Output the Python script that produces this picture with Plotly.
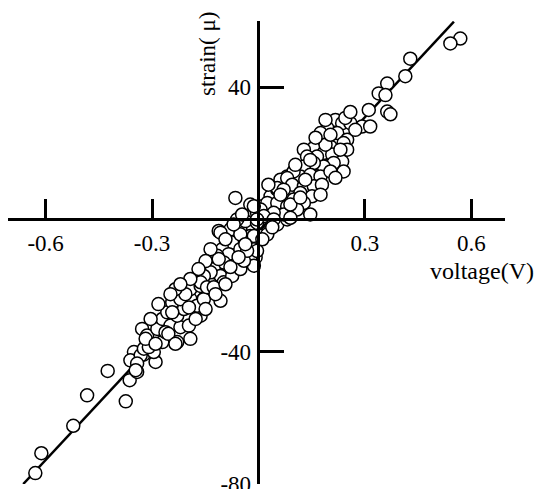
import plotly.graph_objects as go

# voltage (V) and strain (micro) readings
voltage = [
    -0.629, -0.612, -0.522, -0.483, -0.425, -0.374, -0.363, -0.342, -0.346, -0.324, -0.290, -0.310,
    -0.351, -0.361, -0.332, -0.342, -0.346, -0.323, -0.295, -0.309, -0.328, -0.314, -0.285, -0.271,
    -0.229, -0.271, -0.257, -0.243, -0.248, -0.220, -0.196, -0.229, -0.210, -0.192, -0.220, -0.163,
    -0.173, -0.154, -0.192, -0.163, -0.135, -0.173, -0.145, -0.135, -0.107, -0.116, -0.098, -0.126,
    -0.098, -0.112, -0.196, -0.243, -0.262,
    -0.065, -0.023, -0.112, -0.079, -0.051, -0.037, -0.060, -0.046, -0.004, 0.010, 0.034, 0.053,
    0.071, 0.081, 0.062, 0.099, 0.025, 0.053, 0.081, 0.034, 0.062, -0.004, -0.023, 0.006, 0.025,
    -0.074, -0.102, -0.084, -0.051, -0.013, -0.008, -0.023, -0.046, -0.070, -0.098, -0.116, -0.126,
    -0.107, -0.135, -0.154, -0.163, -0.098, -0.074, -0.051, -0.013,
    -0.041, -0.004, -0.032, -0.112, -0.145, -0.126, 0.025, -0.013, -0.051, -0.107,
    0.311, 0.292, 0.315, 0.217, 0.236, 0.259, 0.194, 0.175, 0.222, 0.250, 0.240, 0.156, 0.128,
    0.203, 0.184, 0.208, 0.165, 0.137, 0.250, 0.236, 0.240, 0.212, 0.184, 0.156, 0.128, 0.118,
    0.146, 0.175, 0.203, 0.099, 0.081, 0.095, 0.128, 0.156, 0.179, 0.053, 0.071, 0.118, 0.151,
    0.175, 0.099, 0.128, 0.025, 0.053, 0.081, 0.109, 0.146, 0.006, 0.071, 0.090, 0.043, 0.015,
    -0.013, -0.004, 0.043,
    0.569, 0.541, 0.428, 0.414, 0.363, 0.339, 0.358, 0.363, 0.372,
    -0.282, -0.304, -0.206, -0.177, -0.149, -0.121, -0.093, -0.079, -0.234, -0.254, -0.192, -0.318,
    -0.056, -0.037, 0.011, 0.039, 0.090, 0.118, 0.132, 0.104, 0.146, 0.189, 0.161, 0.203, 0.231,
    0.217, 0.273, 0.245, 0.189, 0.259, 0.062, 0.028, -0.070, -0.093, -0.135, -0.149, -0.169,
    -0.192, -0.220, -0.248, -0.234, -0.290,
]
strain = [
    -76.7, -70.7, -62.4, -53.2, -45.8, -55.0, -48.6, -46.1, -42.1, -40.9, -43.1, -38.5,
    -40.1, -42.6, -41.1, -43.6, -45.6, -39.1, -40.1, -38.6, -33.1, -35.1, -33.1, -37.1,
    -37.1, -30.1, -28.1, -25.1, -32.1, -32.6, -32.1, -29.1, -27.1, -24.1, -24.1, -29.1,
    -26.1, -24.1, -21.1, -20.1, -20.5, -17.5, -16.0, -18.0, -24.6, -13.0, -17.1, -16.0,
    -12.0, -10.0, -26.6, -28.1, -34.1,
    6.5, 4.5, -3.5, -3.0, -3.0, -0.5, 0.0, 1.5, 2.0, 4.0, 7.0, 9.0,
    10.5, 13.0, 12.0, 14.0, -4.0, -1.5, 0.0, 1.0, 3.0, -1.0, -5.0, -5.0, 2.0,
    -7.0, -9.0, -10.5, -9.0, -9.0, -11.5, -12.0, -12.0, -14.0, -13.0, -11.0, -15.0,
    -17.1, -16.0, -17.1, -19.0, -19.0, -17.1, -15.0, -14.0,
    -12.5, -9.5, -9.5, -12.0, -20.5, -20.5, -4.5, -5.0, -4.5, -4.0,
    33.1, 28.1, 28.1, 30.1, 29.1, 29.1, 27.6, 26.1, 26.1, 24.1, 23.1, 21.6, 21.1,
    22.0, 20.1, 19.6, 19.0, 19.0, 21.1, 17.5, 14.5, 17.1, 16.0, 17.1, 16.0, 13.0,
    13.5, 13.0, 14.5, 14.5, 12.5, 10.5, 10.0, 10.0, 10.5, 9.5, 9.0, 8.0, 7.0,
    7.5, 6.0, 5.0, 5.0, 5.0, 4.0, 3.0, 1.5, 3.0, 1.5, 0.5, 2.0, 1.0,
    4.0, 0.0, 0.0,
    54.7, 53.2, 48.6, 43.3, 41.1, 38.1, 37.6, 32.6, 31.8,
    -25.6, -30.1, -22.6, -30.1, -27.1, -22.6, -19.6, -14.4, -21.1, -34.6, -36.1, -36.1,
    -11.4, -7.5, -6.0, -2.4, 4.5, 6.6, 12.0, 16.5, 18.0, 22.6, 24.7, 25.6, 21.1,
    12.6, 27.1, 30.7, 30.1, 32.5, 7.5, 10.5, -1.5, -6.0, -9.0, -12.6, -15.0,
    -18.0, -19.6, -22.6, -37.6, -37.6,
]

# fitted line end points
fit_voltage = [-0.663, 0.551]
fit_strain = [-80.0, 59.8]

x_ticks = [-0.6, -0.3, 0.3, 0.6]
x_tick_labels = ["-0.6", "-0.3", "0.3", "0.6"]
y_ticks = [40, -40, -80]
y_tick_labels = ["40", "-40", "-80"]

FONT = "Liberation Serif"
W, H = 536, 489

fig = go.Figure()
fig.add_trace(go.Scatter(
    x=fit_voltage, y=fit_strain, mode="lines",
    line=dict(color="black", width=2.5), showlegend=False, hoverinfo="skip",
))
fig.add_trace(go.Scatter(
    x=voltage, y=strain, mode="markers",
    marker=dict(symbol="circle", size=13, color="white",
                line=dict(color="black", width=1.5)),
    showlegend=False, cliponaxis=False,
))

x0_px, x1_px = 8, 505
y_bot_px, y_top_px = 484, 21
xr = [-0.706, 0.695]
yr = [-80, 60]
zero_y_px = y_bot_px - (0 - yr[0]) / (yr[1] - yr[0]) * (y_bot_px - y_top_px)
zero_x_px = x0_px + (0 - xr[0]) / (xr[1] - xr[0]) * (x1_px - x0_px)

fig.update_layout(
    width=W, height=H,
    margin=dict(l=0, r=0, t=0, b=0, pad=0),
    paper_bgcolor="white", plot_bgcolor="rgba(0,0,0,0)",
    font=dict(family=FONT, size=23, color="black"),
    xaxis=dict(
        domain=[x0_px / W, x1_px / W], range=xr,
        anchor="free", position=(H - zero_y_px) / H,
        showline=True, linecolor="black", linewidth=2.5,
        ticks="inside", ticklen=20, tickwidth=2.5, tickcolor="black",
        tickvals=x_ticks, ticktext=x_tick_labels,
        ticklabelstandoff=2, ticklabeloverflow="allow",
        showgrid=False, zeroline=False, automargin=False,
        tickfont=dict(family=FONT, size=23),
    ),
    yaxis=dict(
        domain=[(H - y_bot_px) / H, (H - y_top_px) / H], range=yr,
        anchor="free", position=zero_x_px / W,
        showline=True, linecolor="black", linewidth=2.5,
        ticks="inside", ticklen=24, tickwidth=2.5, tickcolor="black",
        tickvals=y_ticks, ticktext=y_tick_labels,
        ticklabelstandoff=2, ticklabeloverflow="allow",
        showgrid=False, zeroline=False, automargin=False,
        tickfont=dict(family=FONT, size=23),
    ),
    annotations=[
        dict(text="voltage(V)", xref="paper", yref="paper",
             x=1.0, y=(H - 271) / H, xanchor="right", yanchor="middle",
             showarrow=False, font=dict(family=FONT, size=24)),
        dict(text="strain( μ)", xref="paper", yref="paper",
             x=207 / W, y=(H - 54) / H, xanchor="center", yanchor="middle",
             textangle=-90, showarrow=False, font=dict(family=FONT, size=23)),
    ],
)

fig.write_html("out.html")
